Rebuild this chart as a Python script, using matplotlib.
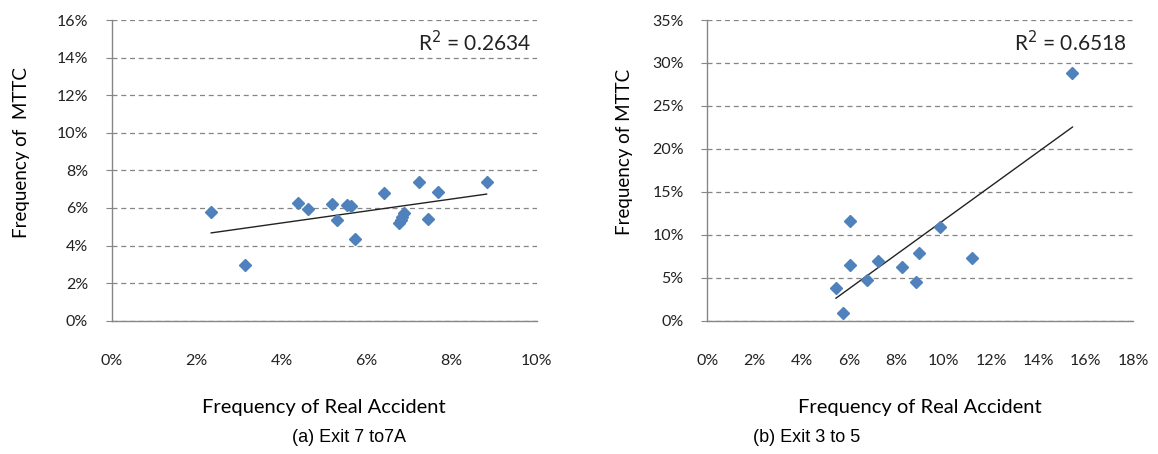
import numpy as np
import matplotlib
matplotlib.use("Agg")
import matplotlib.pyplot as plt
from matplotlib.ticker import PercentFormatter, MultipleLocator

# (a) Exit 7 to 7A  -- values in percent
acc_a = [2.34, 3.13, 4.38, 4.62, 5.18, 5.30, 5.53, 5.62, 5.73, 6.41,
         6.76, 6.80, 6.84, 6.88, 7.22, 7.45, 7.67, 8.82]
mttc_a = [5.76, 2.94, 6.28, 5.92, 6.21, 5.35, 6.17, 6.12, 4.36, 6.77,
          5.21, 5.35, 5.52, 5.72, 7.38, 5.43, 6.83, 7.36]
r2_a = "R$^2$ = 0.2634"

# (b) Exit 3 to 5
acc_b = [15.44, 6.03, 9.86, 6.03, 7.23, 8.96, 11.18, 8.23, 6.77, 8.83, 5.44, 5.73]
mttc_b = [28.87, 11.60, 10.90, 6.44, 6.98, 7.84, 7.30, 6.21, 4.73, 4.46, 3.80, 0.93]
r2_b = "R$^2$ = 0.6518"

xmax = [10, 18]
ymax = [16, 35]
xstep = [2, 2]
ystep = [2, 5]
ylabels = ["Frequency of  MTTC", "Frequency of MTTC"]
captions = ["(a) Exit 7 to7A", "(b) Exit 3 to 5"]

blue = "#4F81BD"
grey = "#868686"
cal = ["Lato", "DejaVu Sans"]

fig = plt.figure(figsize=(11.58, 4.54), dpi=100)
ax1 = fig.add_axes([0.0965, 0.2936, 0.367, 0.6623])
ax2 = fig.add_axes([0.6108, 0.2936, 0.3676, 0.6623])

data = [(acc_a, mttc_a, r2_a), (acc_b, mttc_b, r2_b)]
ylab_x = [-0.192, -0.175]
for i, ax in enumerate([ax1, ax2]):
    x, y, r2 = data[i]
    x = np.array(x)
    y = np.array(y)
    ax.plot(x, y, "D", color=blue, ms=6.5, mec=blue, zorder=3)
    # linear trendline like excel
    k, b = np.polyfit(x, y, 1)
    xs = np.array([x.min(), x.max()])
    ax.plot(xs, k * xs + b, color="#222222", lw=1.0, zorder=2)

    ax.set_xlim(0, xmax[i])
    ax.set_ylim(0, ymax[i])
    ax.xaxis.set_major_locator(MultipleLocator(xstep[i]))
    ax.yaxis.set_major_locator(MultipleLocator(ystep[i]))
    ax.xaxis.set_major_formatter(PercentFormatter(decimals=0))
    ax.yaxis.set_major_formatter(PercentFormatter(decimals=0))
    ax.grid(axis="y", color=grey, ls=(0, (4, 3)), lw=0.9)
    ax.set_axisbelow(True)
    for s in ["top", "right"]:
        ax.spines[s].set_visible(False)
    for s in ["left", "bottom"]:
        ax.spines[s].set_color(grey)
        ax.spines[s].set_linewidth(1.0)
    ax.tick_params(axis="y", length=4, color=grey, pad=13, labelsize=11.5)
    ax.tick_params(axis="x", length=0, pad=24, labelsize=11.5)
    for lab in ax.get_xticklabels() + ax.get_yticklabels():
        lab.set_family(cal)
        lab.set_color("#222222")
    ax.set_ylabel(ylabels[i], family=cal, fontsize=13.5)
    ax.yaxis.set_label_coords(ylab_x[i], 0.56)
    ax.set_xlabel("Frequency of Real Accident", family=cal, fontsize=14.5,
                  labelpad=22)
    ax.text(0.985, 0.925, r2, transform=ax.transAxes, ha="right", va="center",
            family=cal, fontsize=15, color="#222222")

fig.text(349 / 1158, 1 - 437 / 454, captions[0], ha="center", va="center",
         family="Liberation Sans", fontsize=13)
fig.text(807 / 1158, 1 - 437 / 454, captions[1], ha="center", va="center",
         family="Liberation Sans", fontsize=13)

fig.savefig("out.png", dpi=100)
